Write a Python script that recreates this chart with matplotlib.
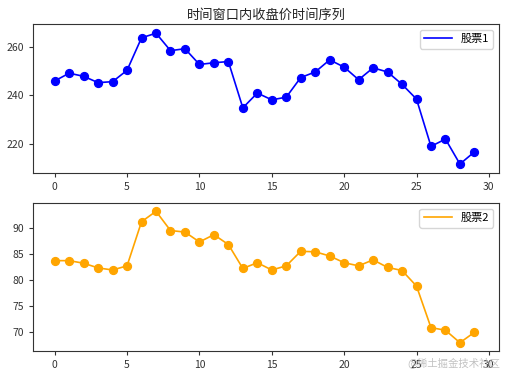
import matplotlib
matplotlib.use("Agg")
import matplotlib.pyplot as plt

plt.rcParams['font.family'] = ['Noto Sans CJK SC', 'DejaVu Sans']
plt.rcParams['axes.unicode_minus'] = False

x = list(range(30))
stock1 = [246.0, 249.2, 247.9, 245.3, 245.7, 250.4, 263.8, 265.7, 258.5, 259.3,
          252.8, 253.5, 254.0, 234.9, 241.0, 238.2, 239.3, 247.4, 249.7, 254.7,
          251.7, 246.5, 251.4, 249.7, 244.6, 238.5, 219.0, 222.0, 211.7, 216.7]
stock2 = [83.7, 83.7, 83.2, 82.3, 81.9, 82.7, 91.2, 93.2, 89.5, 89.2,
          87.3, 88.7, 86.8, 82.2, 83.3, 81.9, 82.7, 85.5, 85.4, 84.6,
          83.3, 82.7, 83.85, 82.4, 81.8, 78.8, 70.8, 70.3, 67.9, 69.9]
title = "时间窗口内收盘价时间序列"
labels = ["股票1", "股票2"]
colors = ["blue", "orange"]

fig = plt.figure(figsize=(5.08, 3.78), dpi=100)
ax1 = fig.add_axes([33/508, 1-173/378, 466/508, 149/378])
ax2 = fig.add_axes([33/508, 1-351/378, 466/508, 148/378])

for ax, ys, lab, c in [(ax1, stock1, labels[0], colors[0]), (ax2, stock2, labels[1], colors[1])]:
    ax.plot(x, ys, color=c, linewidth=1.2, label=lab)
    ax.scatter(x, ys, color=c, s=32, zorder=3)
    ax.set_xlim(-1.5, 30.7)
    ax.set_xticks([0, 5, 10, 15, 20, 25, 30])
    ax.tick_params(labelsize=7.5, length=3, width=0.8, colors='#333333')
    ax.legend(loc='upper right', fontsize=8, handlelength=2.5)
    for s in ax.spines.values():
        s.set_color('#333333')
        s.set_linewidth(0.8)

ax1.set_ylim(208, 269.5)
ax1.set_yticks([220, 240, 260])
ax2.set_ylim(66.3, 94.8)
ax2.set_yticks([70, 75, 80, 85, 90])
ax1.set_title(title, fontsize=9.5, color='#222222', pad=4)

fig.text(0.985, 0.025, "@稀土掘金技术社区", ha='right', va='bottom', fontsize=7.5, color='#bbbbbb', alpha=0.9)

fig.savefig("out.png", dpi=100)
